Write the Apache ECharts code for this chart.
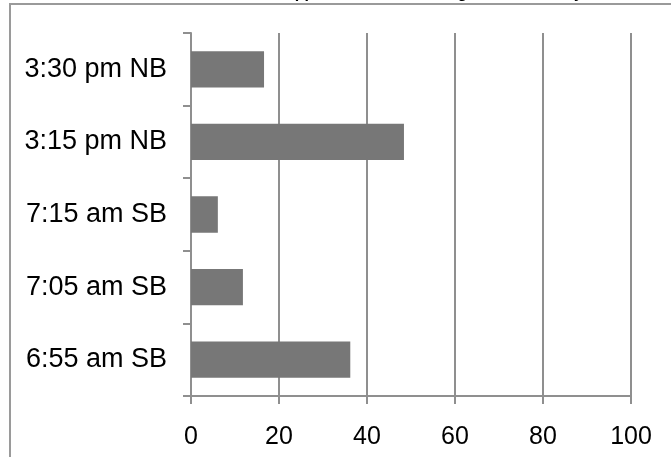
<!DOCTYPE html>
<html>
<head>
<meta charset="utf-8">
<style>
  html, body { margin: 0; padding: 0; background: #ffffff; }
  #chart { width: 671px; height: 457px; }
</style>
<script src="https://cdn.jsdelivr.net/npm/echarts@6/dist/echarts.min.js"></script>
</head>
<body>
<div id="chart"></div>
<script>
// Trips listed bottom-to-top, as a category y axis draws them
const trips = ['6:55 am SB', '7:05 am SB', '7:15 am SB', '3:15 pm NB', '3:30 pm NB'];
const counts = [36.2, 11.8, 6.1, 48.4, 16.6];
const xTicks = [0, 20, 40, 60, 80, 100];

const FONT = 'Arial, "Liberation Sans", sans-serif';
const GREY = '#8f8f8f';

const chart = echarts.init(document.getElementById('chart'), null, { renderer: 'canvas' });

chart.setOption({
  backgroundColor: '#ffffff',
  animation: false,
  graphic: [
    {
      type: 'rect',
      shape: { x: 10, y: 4, width: 800, height: 600 },
      style: { fill: 'none', stroke: '#9a9a9a', lineWidth: 2 },
      silent: true
    },
    {
      type: 'text',
      left: 269,
      top: -14,
      style: {
        text: 'Stopped Vehicles Passing School Bus by Time',
        font: 'bold 16px ' + FONT,
        fill: '#000000'
      },
      silent: true
    }
  ],
  grid: { left: 191, right: 40, top: 33, bottom: 61, containLabel: false },
  xAxis: {
    type: 'value',
    min: xTicks[0],
    max: xTicks[xTicks.length - 1],
    interval: xTicks[1] - xTicks[0],
    axisLine: { show: true, lineStyle: { color: GREY, width: 2 } },
    axisTick: { show: true, length: 8, lineStyle: { color: GREY, width: 2 } },
    splitLine: { show: true, lineStyle: { color: GREY, width: 2 } },
    axisLabel: { color: '#000000', fontSize: 25, fontFamily: FONT, margin: 29 }
  },
  yAxis: {
    type: 'category',
    data: trips,
    axisLine: { show: true, lineStyle: { color: GREY, width: 2 } },
    axisTick: { show: true, length: 8, lineStyle: { color: GREY, width: 2 } },
    splitLine: { show: false },
    axisLabel: { color: '#000000', fontSize: 27, fontFamily: FONT, margin: 24 }
  },
  series: [
    {
      type: 'bar',
      data: counts,
      barCategoryGap: '50%',
      itemStyle: { color: '#777777' },
      z: 3
    }
  ]
});
</script>
</body>
</html>
